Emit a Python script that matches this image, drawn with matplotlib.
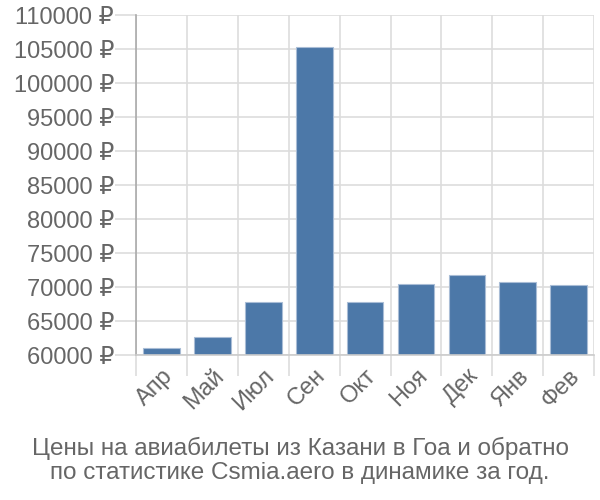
import matplotlib.pyplot as plt
import numpy as np
from matplotlib.ticker import FixedLocator, FuncFormatter

# data
months = ['Апр', 'Май', 'Июл', 'Сен', 'Окт', 'Ноя', 'Дек', 'Янв', 'Фев']
prices = [61100, 62600, 67800, 105300, 67800, 70400, 71800, 70800, 70300]
y_ticks = list(range(60000, 110001, 5000))
title = 'Цены на авиабилеты из Казани в Гоа и обратно\nпо статистике Csmia.aero в динамике за год.'

plt.rcParams['font.family'] = ['Liberation Sans', 'DejaVu Sans']
text_col = '#666666'
grid_col = '#dddddd'

fig = plt.figure(figsize=(6, 5), dpi=100)
ax = fig.add_axes([0.227, 0.29, 0.763, 0.68])

x = np.arange(len(months))
ax.bar(x, prices, width=0.72, bottom=0, color='#4c78a8', edgecolor='#a9bdd6',
       linewidth=0.8, zorder=3)

ax.set_ylim(60000, 110000)
ax.set_xlim(-0.5, len(months) - 0.5)

ax.set_yticks(y_ticks)
ax.yaxis.set_major_formatter(FuncFormatter(lambda v, p: f'{int(v)} ₽'))
ax.set_xticks(x)
ax.set_xticklabels(months, rotation=45, ha='right', rotation_mode='anchor')
ax.xaxis.set_minor_locator(FixedLocator(np.arange(-0.5, len(months), 1.0)))

ax.tick_params(axis='y', length=15, color=grid_col, width=1.2, labelsize=17,
               labelcolor=text_col, pad=1)
ax.tick_params(axis='x', which='major', length=0, labelsize=17,
               labelcolor=text_col, pad=7)
ax.tick_params(axis='x', which='minor', length=15, color=grid_col, width=1.2)

ax.grid(axis='y', which='major', color=grid_col, linewidth=1.2, zorder=0)
ax.grid(axis='x', which='minor', color=grid_col, linewidth=1.2, zorder=0)

for s in ['top', 'right']:
    ax.spines[s].set_visible(False)
ax.spines['left'].set_color('#aaaaaa')
ax.spines['left'].set_linewidth(1.2)
ax.spines['bottom'].set_color('#cccccc')
ax.spines['bottom'].set_linewidth(1.2)
ax.spines['bottom'].set_zorder(4)

fig.text(0.5, 0.079, title, ha='center', va='center', fontsize=17.5,
         color=text_col, linespacing=1.12)

fig.savefig('out.png', dpi=100)
